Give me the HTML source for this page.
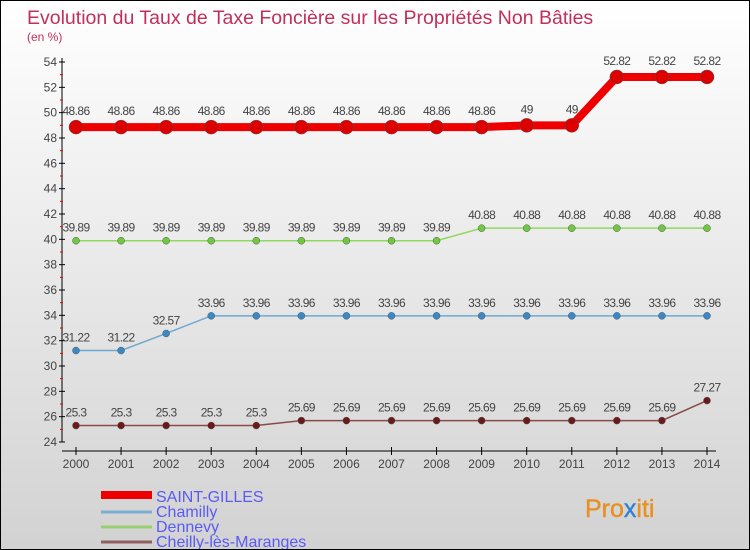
<!DOCTYPE html>
<html><head><meta charset="utf-8"><style>
body{margin:0}
#c{position:relative;width:750px;height:550px;box-sizing:border-box;border:1px solid #000;background:linear-gradient(#ffffff,#d2d2d2);font-family:"Liberation Sans",sans-serif;overflow:hidden}
</style></head><body>
<div id="c">
<svg id="s" width="750" height="550" style="position:absolute;left:0;top:0">
<text x="26" y="23" font-size="19.5" fill="#c0305a">Evolution du Taux de Taxe Foncière sur les Propriétés Non Bâties</text>
<text x="26" y="40" font-size="12" fill="#c0305a">(en %)</text>
<g id="axes"></g><g id="series"></g><g id="legend"></g>
<text x="584" y="516" font-size="25" fill="#e89020" stroke="#e89020" stroke-width="0.4">Pro<tspan fill="#3080d0" stroke="#3080d0">x</tspan>iti</text>
</svg>
</div>
<script>
const years=[2000,2001,2002,2003,2004,2005,2006,2007,2008,2009,2010,2011,2012,2013,2014];
const yTicks=[24,26,28,30,32,34,36,38,40,42,44,46,48,50,52,54];
const seriesNames=["SAINT-GILLES","Chamilly","Dennevy","Cheilly-lès-Maranges"];
const stGilles=[48.86,48.86,48.86,48.86,48.86,48.86,48.86,48.86,48.86,48.86,49,49,52.82,52.82,52.82];
const chamilly=[31.22,31.22,32.57,33.96,33.96,33.96,33.96,33.96,33.96,33.96,33.96,33.96,33.96,33.96,33.96];
const dennevy=[39.89,39.89,39.89,39.89,39.89,39.89,39.89,39.89,39.89,40.88,40.88,40.88,40.88,40.88,40.88];
const cheilly=[25.3,25.3,25.3,25.3,25.3,25.69,25.69,25.69,25.69,25.69,25.69,25.69,25.69,25.69,27.27];
const NS="http://www.w3.org/2000/svg";
function X(i){return 75+i*(706-75)/(years.length-1);}
function Y(v){return 441-(v-24)*(380/30);}
function mk(t,a,p){const e=document.createElementNS(NS,t);for(const k in a)e.setAttribute(k,a[k]);p.appendChild(e);return e;}
const ax=document.getElementById('axes');
let l=mk('line',{x1:61,y1:57,x2:61,y2:441,stroke:'#000'},ax);


l=mk('line',{x1:61,y1:450,x2:715,y2:450,stroke:'#000'},ax);


yTicks.forEach((v,k)=>{
 const y=Y(v);
 mk('line',{x1:58,y1:y,x2:64,y2:y,stroke:'#000'},ax);
 if(k<yTicks.length-1)mk('line',{x1:59,y1:Y(v+1),x2:62,y2:Y(v+1),stroke:'#e00'},ax);
 const t=mk('text',{x:56,y:y+4,'font-size':12,fill:'#444','text-anchor':'end'},ax);t.textContent=v;
 
 
});
years.forEach((yr,i)=>{
 const x=X(i);
 mk('line',{x1:x,y1:446,x2:x,y2:454,stroke:'#000'},ax);
 const t=mk('text',{x:x,y:467,'font-size':12,fill:'#444','text-anchor':'middle'},ax);t.textContent=yr;
 
 
});
const cfg=[[stGilles,'#ee0000','#dd0000',8,7],[chamilly,'#6fa8d0','#3a88c8',1.5,3.5],[dennevy,'#90d860','#70c840',1.5,3.5],[cheilly,'#8a4a4a','#6a1a1a',1.5,3.5]];
const sg=document.getElementById('series');
cfg.forEach((c,si)=>{
 const d=c[0];
 const g=mk('g',{},sg);
 
 
 const p=mk('polyline',{points:d.map((v,i)=>X(i)+','+Y(v)).join(' '),fill:'none',stroke:c[1],'stroke-width':c[3]},g);
 
 
 d.forEach((v,i)=>{
  const m=mk('circle',{cx:X(i),cy:Y(v),r:c[4],fill:c[2],stroke:'#555','stroke-width':0.5},g);
  
  
  const t=mk('text',{x:X(i),y:Y(v)-(si==0?12:9),'font-size':12,fill:'#444','text-anchor':'middle','letter-spacing':'-0.6'},g);
  t.textContent=v;
  
  
 });
});
const lg=document.getElementById('legend');
const lc=['#ee0000','#7aaed0','#98d070','#906060'],lw=[8,3,3,3];
seriesNames.forEach((n,i)=>{
 const y=494+i*15;
 const g=mk('g',{},lg);
 
 
 mk('line',{x1:100,y1:y+(i==0?0:2),x2:151,y2:y+(i==0?0:2),stroke:lc[i],'stroke-width':lw[i]},g);
 const t=mk('text',{x:155,y:y+7,'font-size':16,fill:'#5a5af5'},g);t.textContent=n;
 
 
});
</script>
</body></html>
